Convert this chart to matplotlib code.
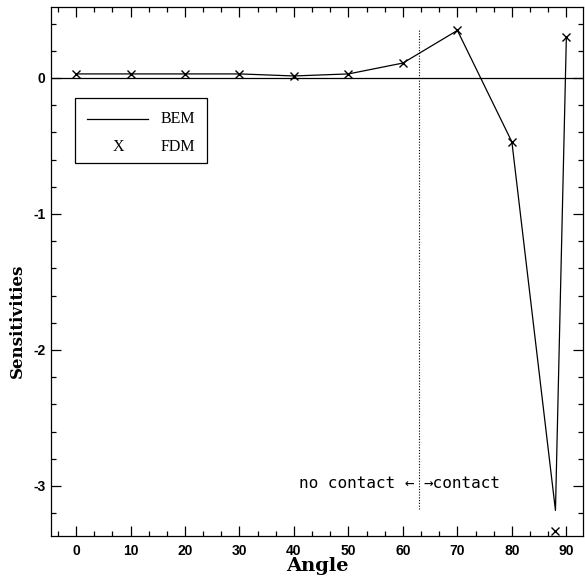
import matplotlib
matplotlib.use("Agg")
import matplotlib.pyplot as plt
from matplotlib.patches import Rectangle
from matplotlib.lines import Line2D
from matplotlib.ticker import MultipleLocator

plt.rcParams["axes.unicode_minus"] = False

# Data
angles_bem = [0, 10, 20, 30, 40, 50, 60, 70, 80, 88, 90]
sens_bem = [0.03, 0.03, 0.03, 0.03, 0.015, 0.03, 0.11, 0.35, -0.47, -3.18, 0.30]
angles_fdm = [0, 10, 20, 30, 40, 50, 60, 70, 80, 88, 90]
sens_fdm = [0.03, 0.03, 0.03, 0.03, 0.015, 0.03, 0.11, 0.35, -0.47, -3.33, 0.30]
contact_angle = 63
xticks = [0, 10, 20, 30, 40, 50, 60, 70, 80, 90]
yticks = [0, -1, -2, -3]

fig = plt.figure(figsize=(5.85, 5.80), dpi=100)
ax = fig.add_axes([0.0872, 0.0759, 0.9098, 0.912])

ax.plot(angles_bem, sens_bem, color="black", lw=0.9)
ax.plot(angles_fdm, sens_fdm, linestyle="none", marker="x", color="black",
        markersize=6, markeredgewidth=1.0)
ax.axhline(0, color="black", lw=0.9)
ax.vlines(contact_angle, -3.17, 0.35, colors="black", linestyles=(0, (1, 1.5)), lw=0.8)

mono = "DejaVu Sans Mono"
ax.text(contact_angle - 0.8, -2.98, "no contact \u2190", ha="right", va="center",
        family=mono, fontsize=11.5)
ax.text(contact_angle + 0.8, -2.98, "\u2192contact", ha="left", va="center",
        family=mono, fontsize=11.5)

ax.set_xlim(-4.6, 93.1)
ax.set_ylim(-3.368, 0.522)
ax.set_xticks(xticks)
ax.set_yticks(yticks)
ax.xaxis.set_minor_locator(MultipleLocator(10 / 3))
ax.yaxis.set_minor_locator(MultipleLocator(0.2))
ax.tick_params(which="both", direction="in", top=True, right=True, width=0.9)
ax.tick_params(which="major", length=7)
ax.tick_params(which="minor", length=3.5)
for lab in ax.get_xticklabels() + ax.get_yticklabels():
    lab.set_family("Liberation Sans")
    lab.set_fontweight("bold")
    lab.set_fontsize(10)
ax.tick_params(axis="x", pad=6)
ax.tick_params(axis="y", pad=4)
for s in ax.spines.values():
    s.set_linewidth(0.9)

ax.set_xlabel("Angle", family="DejaVu Serif", fontweight="bold", fontsize=14, labelpad=-1)
fig.text(17 / 585, 1 - 321 / 580, "Sensitivities", rotation=90, ha="center", va="center",
         family="DejaVu Serif", fontweight="bold", fontsize=12)

# Legend box drawn manually
W, H = 532, 529
x0, x1 = (75 - 51) / W, (207 - 51) / W
y0, y1 = (536 - 163) / H, (536 - 98) / H
ax.add_patch(Rectangle((x0, y0), x1 - x0, y1 - y0, transform=ax.transAxes,
                       fill=False, edgecolor="black", lw=0.9))
yb = (536 - 119) / H
yf = (536 - 147) / H
ax.add_line(Line2D([(87 - 51) / W, (148 - 51) / W], [yb, yb], transform=ax.transAxes,
                   color="black", lw=0.9))
ax.text((161 - 51) / W, yb, "BEM", transform=ax.transAxes, va="center", ha="left",
        family="Liberation Serif", fontsize=11.5)
ax.text((118 - 51) / W, yf, "X", transform=ax.transAxes, va="center", ha="center",
        family="Liberation Serif", fontsize=11.5)
ax.text((161 - 51) / W, yf, "FDM", transform=ax.transAxes, va="center", ha="left",
        family="Liberation Serif", fontsize=11.5)

fig.savefig("out.png", dpi=100)
